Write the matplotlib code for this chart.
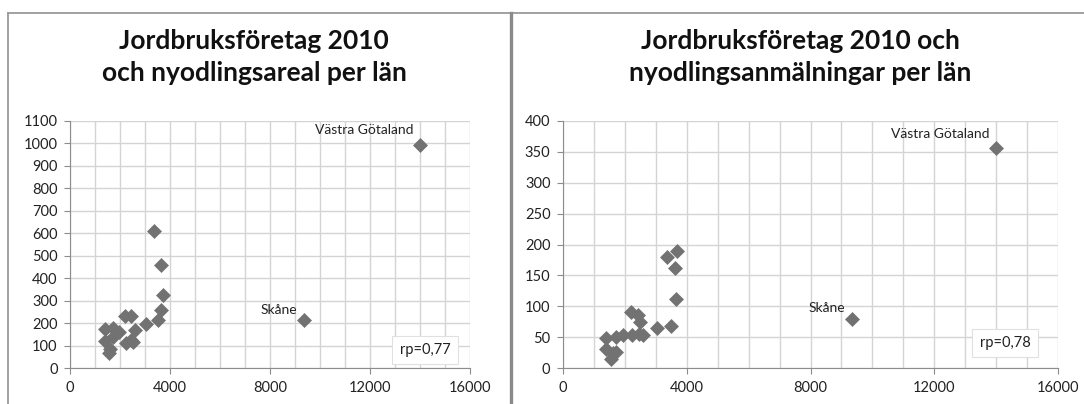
import matplotlib
matplotlib.use("Agg")
import matplotlib.pyplot as plt
from matplotlib.lines import Line2D
from matplotlib.ticker import MultipleLocator

# jordbruksföretag 2010 per län (x), same for both charts
foretag = [1400, 1400, 1550, 1600, 1700, 1720, 1950, 2200, 2230, 2430,
           2450, 2500, 2600, 3050, 3370, 3500, 3620, 3650, 3700, 9350, 14000]
# nyodlingsareal per län
areal = [175, 120, 65, 85, 180, 140, 160, 230, 110, 230,
         125, 115, 170, 195, 610, 215, 460, 260, 325, 212, 995]
# nyodlingsanmälningar per län
anmalningar = [49, 30, 15, 24, 51, 26, 53, 90, 53, 86,
               55, 74, 53, 64, 179, 68, 162, 111, 189, 80, 356]

labels = {"Skåne": 19, "Västra Götaland": 20}
titles = ["Jordbruksföretag 2010\noch nyodlingsareal per län",
          "Jordbruksföretag 2010 och\nnyodlingsanmälningar per län"]
rp_text = ["rp=0,77", "rp=0,78"]

plt.rcParams['font.family'] = ['Lato', 'DejaVu Sans']

W, H = 1084, 404
fig = plt.figure(figsize=(W / 100, H / 100), dpi=100)

grid_c = '#d4d4d4'
axis_c = '#8c8c8c'
mark_c = '#727272'


def make_ax(x0, x1, y_top, y_bot):
    return fig.add_axes([x0 / W, 1 - y_bot / H, (x1 - x0) / W, (y_bot - y_top) / H])


ax1 = make_ax(70, 470, 121, 368)
ax2 = make_ax(563, 1058, 121, 368)

setups = [(ax1, areal, 1100, 100, titles[0], rp_text[0]),
          (ax2, anmalningar, 400, 50, titles[1], rp_text[1])]

for ax, yvals, ymax, ystep, title, rp in setups:
    ax.scatter(foretag, yvals, marker='D', s=58, color=mark_c, zorder=3, linewidths=0)
    ax.set_xlim(0, 16000)
    ax.set_ylim(0, ymax)
    ax.xaxis.set_major_locator(MultipleLocator(4000))
    ax.xaxis.set_minor_locator(MultipleLocator(1000))
    ax.yaxis.set_major_locator(MultipleLocator(ystep))
    ax.grid(True, which='both', color=grid_c, linewidth=1.0)
    ax.set_axisbelow(True)
    for side in ['top', 'right']:
        ax.spines[side].set_visible(False)
    for side in ['left', 'bottom']:
        ax.spines[side].set_color(axis_c)
    ax.tick_params(which='major', length=4, color=axis_c, labelsize=10.5, labelcolor='#222222', pad=5)
    ax.tick_params(which='minor', length=0)

    for name, i in labels.items():
        if name == "Skåne":
            off = (-5, 3)
        else:
            off = (-5, 6)
        ax.annotate(name, (foretag[i], yvals[i]), xytext=off, textcoords='offset points',
                    ha='right', va='bottom', fontsize=10, color='#222222')

# rp boxes
ax1.text(0.8875, 0.073, rp_text[0], transform=ax1.transAxes, ha='center', va='center',
         fontsize=10.5, color='#222222', zorder=4,
         bbox=dict(boxstyle='square,pad=0.5', fc='white', ec='#e0e0e0', lw=0.8))
ax2.text(0.893, 0.101, rp_text[1], transform=ax2.transAxes, ha='center', va='center',
         fontsize=10.5, color='#222222', zorder=4,
         bbox=dict(boxstyle='square,pad=0.5', fc='white', ec='#e0e0e0', lw=0.8))

# titles
fig.text(254 / W, 1 - 57 / H, titles[0], ha='center', va='center', fontsize=19,
         fontweight='bold', linespacing=1.4, color='#111111')
fig.text(800 / W, 1 - 57 / H, titles[1], ha='center', va='center', fontsize=19,
         fontweight='bold', linespacing=1.4, color='#111111')

# panel frames
fig.add_artist(Line2D([8 / W, 1], [1 - 13 / H, 1 - 13 / H], color='#9a9a9a', lw=1.3))
fig.add_artist(Line2D([8 / W, 8 / W], [0, 1 - 13 / H], color='#9a9a9a', lw=1.3))
fig.add_artist(Line2D([511 / W, 511 / W], [0, 1 - 13 / H], color='#8a8a8a', lw=2.4))

fig.savefig('out.png', dpi=100)
